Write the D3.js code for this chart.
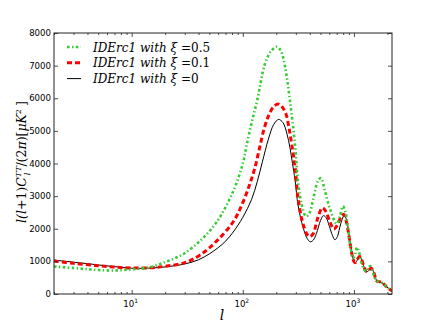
<!DOCTYPE html>
<html>
<head>
<meta charset="utf-8">
<script src="https://cdn.jsdelivr.net/npm/d3@7"></script>
<style>
  body { margin: 0; background: #fff; }
  text { font-family: "DejaVu Sans", sans-serif; }
  .math { font-family: "DejaVu Serif", "Liberation Serif", serif; font-style: italic; }
</style>
</head>
<body>
<svg id="chart" width="436" height="327"></svg>
<script>
// multipole l and D_l = l(l+1)C_l/(2pi) in muK^2
const lBlack = [2, 3, 4, 5, 7, 10, 15, 20, 30, 40, 50, 60, 70, 82, 100, 120, 135, 150, 170, 190, 210, 230, 250, 265, 280, 295, 315, 348, 380, 405, 430, 460, 500, 530, 560, 600, 640, 675, 710, 760, 820, 860, 900, 950, 1000, 1030, 1080, 1130, 1180, 1240, 1300, 1370, 1440, 1500, 1560, 1620, 1690, 1780, 1860, 1950, 2050, 2200];
const dBlack = [1040, 975, 930, 890, 840, 790, 795, 830, 920, 1050, 1230, 1420, 1620, 1900, 2350, 2900, 3450, 4050, 4750, 5200, 5350, 5250, 4900, 4500, 4000, 3500, 2700, 2050, 1700, 1600, 1650, 1860, 2250, 2400, 2350, 2080, 1800, 1660, 1760, 2150, 2420, 2250, 1850, 1350, 1000, 950, 1060, 1145, 1030, 800, 680, 730, 790, 680, 500, 390, 380, 350, 300, 230, 170, 90];

const lRed = [2, 3, 5, 7, 10, 15, 20, 30, 41, 58, 82, 100, 115, 128, 142, 155, 170, 190, 210, 230, 246, 260, 275, 295, 315, 345, 375, 400, 430, 470, 520, 560, 610, 660, 710, 770, 810, 850, 900, 950, 1000, 1030, 1080, 1125, 1180, 1240, 1300, 1370, 1430, 1500, 1560, 1620, 1690, 1780, 1860, 1950, 2050, 2200];
const dRed = [1010, 940, 865, 825, 795, 805, 850, 960, 1190, 1620, 2215, 2800, 3350, 3850, 4500, 5050, 5450, 5750, 5820, 5700, 5490, 5100, 4600, 3900, 2900, 2200, 1850, 1760, 1850, 2300, 2640, 2520, 2200, 1990, 2120, 2380, 2440, 2250, 1800, 1300, 1000, 960, 1080, 1150, 1030, 800, 680, 740, 790, 680, 500, 390, 380, 350, 300, 230, 170, 90];

const lGreen = [2, 3, 4, 5, 7, 10, 15, 20, 25, 30, 41, 58, 82, 100, 108, 120, 135, 158, 180, 203, 220, 240, 265, 294, 315, 337, 370, 400, 428, 476, 505, 545, 607, 700, 750, 795, 840, 880, 930, 980, 1010, 1070, 1110, 1170, 1230, 1290, 1350, 1400, 1460, 1530, 1600, 1690, 1780, 1860, 1950, 2050, 2200];
const dGreen = [845, 795, 760, 735, 720, 755, 830, 980, 1110, 1250, 1620, 2200, 3150, 4000, 4550, 5250, 5950, 7050, 7450, 7580, 7450, 6970, 5950, 4620, 3400, 2780, 2380, 2500, 2880, 3480, 3550, 3200, 2620, 2150, 2400, 2690, 2500, 2050, 1450, 1100, 1150, 1430, 1300, 950, 760, 690, 800, 860, 740, 530, 400, 380, 350, 300, 230, 170, 90];

const seriesNames = ["IDErc1 with \u03be =0.5", "IDErc1 with \u03be =0.1", "IDErc1 with \u03be =0"];
const yTicks = [0, 1000, 2000, 3000, 4000, 5000, 6000, 7000, 8000];
const xMajor = [10, 100, 1000];
const xMinor = [2, 3, 4, 5, 6, 7, 8, 9, 20, 30, 40, 50, 60, 70, 80, 90, 200, 300, 400, 500, 600, 700, 800, 900, 2000];

const svg = d3.select("#chart");
const margin = { top: 33, right: 44, bottom: 33, left: 54 };
const width = 436 - margin.left - margin.right;
const height = 327 - margin.top - margin.bottom;

const chart = svg.append("g")
    .attr("transform", `translate(${margin.left},${margin.top})`);

const x = d3.scaleLog().domain([2, 2200]).range([0, width]);
const y = d3.scaleLinear().domain([0, 8000]).range([height, 0]);

// clip so lines stay inside the frame
chart.append("clipPath").attr("id", "clip")
    .append("rect").attr("width", width).attr("height", height);

const line = d3.line()
    .x(d => x(d[0]))
    .y(d => y(d[1]))
    .curve(d3.curveCatmullRom.alpha(0.5));

const series = [
    { l: lGreen, d: dGreen, color: "#33cc33", w: 2.6, dash: "2.6,2.4,1.4,2.4" },
    { l: lRed, d: dRed, color: "#ff0000", w: 3, dash: "5,3" },
    { l: lBlack, d: dBlack, color: "#000000", w: 1, dash: null }
];

// Draw black first so colored lines overlay like the original
series.slice().reverse().forEach(s => {
    chart.append("path")
        .datum(s.l.map((v, i) => [v, s.d[i]]))
        .attr("clip-path", "url(#clip)")
        .attr("fill", "none")
        .attr("stroke", s.color)
        .attr("stroke-width", s.w)
        .attr("stroke-dasharray", s.dash)
        .attr("d", line);
});

// Ticks pointing inward on all four sides
function tickAxis(axisFn, scale, values, size, transform) {
    const g = chart.append("g")
        .attr("transform", transform)
        .call(axisFn(scale).tickValues(values).tickSize(-size).tickFormat(""));
    g.select(".domain").remove();
    g.selectAll("line").attr("stroke", "#222").attr("stroke-width", 0.8);
    return g;
}

tickAxis(d3.axisBottom, x, xMinor, 2, `translate(0,${height})`);
tickAxis(d3.axisBottom, x, xMajor, 4, `translate(0,${height})`);
tickAxis(d3.axisTop, x, xMinor, 2, "translate(0,0)");
tickAxis(d3.axisTop, x, xMajor, 4, "translate(0,0)");
tickAxis(d3.axisLeft, y, yTicks, 4, "translate(0,0)");
tickAxis(d3.axisRight, y, yTicks, 4, `translate(${width},0)`);

// Frame
chart.append("rect")
    .attr("width", width).attr("height", height)
    .attr("fill", "none").attr("stroke", "#222").attr("stroke-width", 1);

// Y tick labels
chart.selectAll(".ylab")
    .data(yTicks)
    .enter()
    .append("text")
    .attr("class", "ylab")
    .attr("x", -3)
    .attr("y", d => y(d) + 3)
    .attr("text-anchor", "end")
    .attr("font-size", 8.6)
    .text(d => d);

// X tick labels as 10^n
const xl = chart.selectAll(".xlab")
    .data(xMajor)
    .enter()
    .append("text")
    .attr("class", "xlab")
    .attr("x", d => x(d) - 1)
    .attr("y", height + 13)
    .attr("text-anchor", "middle")
    .attr("font-size", 8.6);
xl.append("tspan").text("10");
xl.append("tspan").attr("dy", -4).attr("font-size", 6).text(d => Math.round(Math.log10(d)));

// Axis titles
svg.append("text")
    .attr("class", "math")
    .attr("x", 222).attr("y", 320)
    .attr("text-anchor", "middle")
    .attr("font-size", 14)
    .text("l");

const yt = svg.append("text")
    .attr("class", "math")
    .attr("transform", "translate(26,162) rotate(-90)")
    .attr("text-anchor", "middle")
    .attr("font-size", 12.5);
yt.append("tspan").text("l(l");
yt.append("tspan").attr("font-style", "normal").text("+1)");
yt.append("tspan").text("C");
yt.append("tspan").attr("font-size", "0.65em").attr("dy", -5).text("TT");
yt.append("tspan").attr("font-size", "0.65em").attr("dx", -9).attr("dy", 9).text("l");
yt.append("tspan").attr("dy", -4).attr("dx", 6).attr("font-style", "normal").text("/(2");
yt.append("tspan").text("\u03c0");
yt.append("tspan").attr("font-style", "normal").text(")[");
yt.append("tspan").text("\u03bcK");
yt.append("tspan").attr("font-size", "0.65em").attr("dy", -5).attr("font-style", "normal").text("2");
yt.append("tspan").attr("dy", 5).attr("dx", 3).attr("font-style", "normal").text("]");

// Legend
const legend = svg.append("g").attr("transform", "translate(67,47)");
series.forEach((s, i) => {
    const row = legend.append("g").attr("transform", `translate(0,${i * 15.8})`);
    row.append("line")
        .attr("x1", 0).attr("x2", 14)
        .attr("stroke", s.color)
        .attr("stroke-width", s.w)
        .attr("stroke-dasharray", s.dash);
    const t = row.append("text")
        .attr("class", "math")
        .attr("x", 26).attr("y", 4.5)
        .attr("font-size", 12);
    const name = seriesNames[i];
    const eq = name.indexOf("=");
    t.append("tspan").text(name.slice(0, eq));
    t.append("tspan").attr("font-style", "normal").text(name.slice(eq));
});
</script>
</body>
</html>
